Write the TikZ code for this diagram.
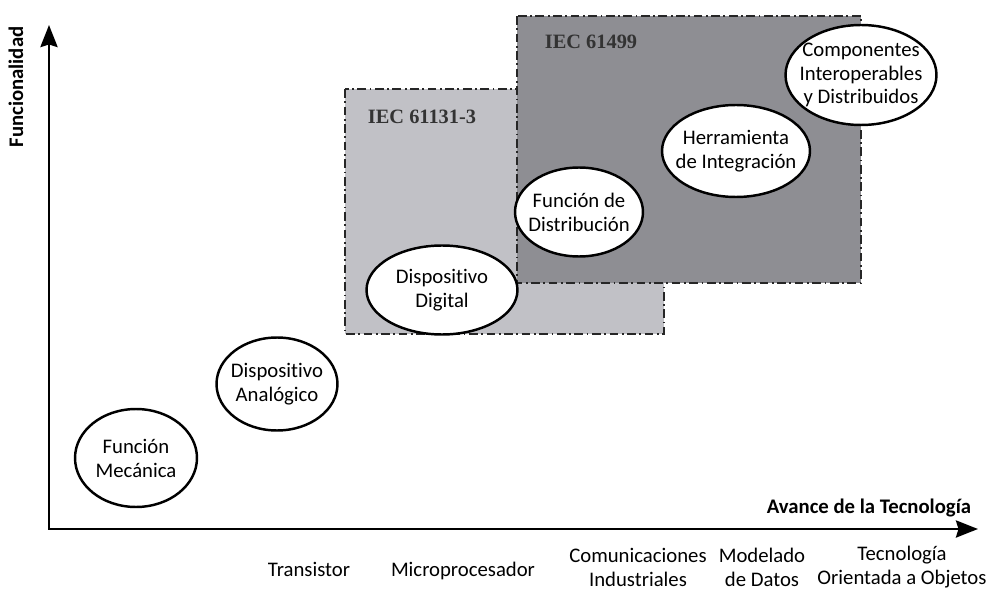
\documentclass[tikz,border=0pt]{standalone}
\usepackage{fontspec}
\setmainfont{Carlito}[Ligatures=NoCommon]
\newfontfamily\iecfont{Liberation Serif}
\usetikzlibrary{arrows.meta,shapes}

\definecolor{oldera}{RGB}{193,193,198}
\definecolor{newera}{RGB}{142,142,147}

\tikzset{
  bubble/.style={ellipse, draw, line width=1.4pt, fill=white, inner sep=0pt},
  stage/.style={align=center, font=\fontsize{11.8}{13.6}\selectfont},
  era/.style={draw=black!85, line width=0.9pt, dash pattern=on 5pt off 2pt on 1pt off 2pt},
  iec/.style={font=\iecfont\bfseries\fontsize{11.6}{13}\selectfont, text=black!80},
  axis/.style={line width=1.7pt, line join=miter,
    {Stealth[length=0.44cm,width=0.34cm,inset=0.05cm]}-{Stealth[length=0.44cm,width=0.34cm,inset=0.05cm]}}
}

\begin{document}
\begin{tikzpicture}[x=0.02cm, y=-0.02cm]
\useasboundingbox (0,0) rectangle (987,591);

% standards
\draw[era, fill=oldera] (345,89) rectangle (664,334);
\draw[era, fill=newera] (517,16) rectangle (861,283);
\node[iec] (iec1) at (422,117) {IEC 61131-3};
\node[iec] (iec2) at (591,42) {IEC 61499};

% axes
\coordinate (origin) at (49,529);
\coordinate (ytop) at (49,25);
\coordinate (xend) at (978,529);
\draw[axis] (ytop) -- (origin) -- (xend);
\node[rotate=90, font=\fontsize{11.8}{13.6}\selectfont\bfseries] (funcional) at (16,87) {Funcionalidad};
\node[font=\fontsize{11.8}{13.6}\selectfont\bfseries] (avance) at (869,508) {Avance de la Tecnología};

% stages
\node[bubble, minimum width=2.44cm, minimum height=1.96cm,
  label={[stage]center:Función\\Mecánica}] (mecanica) at (136,458) {};
\node[bubble, minimum width=2.42cm, minimum height=1.86cm,
  label={[stage]center:Dispositivo\\Analógico}] (analogico) at (277,384) {};
\node[bubble, minimum width=3.02cm, minimum height=1.78cm,
  label={[stage]center:Dispositivo\\Digital}] (digital) at (442,290) {};
\node[bubble, minimum width=2.56cm, minimum height=1.78cm,
  label={[stage]center:Función de\\Distribución}] (distribucion) at (579,212) {};
\node[bubble, minimum width=2.96cm, minimum height=1.84cm,
  label={[stage]center:Herramienta\\de Integración}] (integracion) at (736,151) {};
\node[bubble, minimum width=3.02cm, minimum height=2.0cm,
  label={[stage]center:Componentes\\Interoperables\\y Distribuidos}] (componentes) at (861,75) {};

% technologies
\node[stage] (transistor) at (309,569) {Transistor};
\node[stage] (micro) at (463,571) {Microprocesador};
\node[stage] (comunic) at (638,567) {Comunicaciones\\Industriales};
\node[stage] (datos) at (762,567) {Modelado\\de Datos};
\node[stage] (objetos) at (902,567) {Tecnología\\Orientada a Objetos};

\end{tikzpicture}
\end{document}
